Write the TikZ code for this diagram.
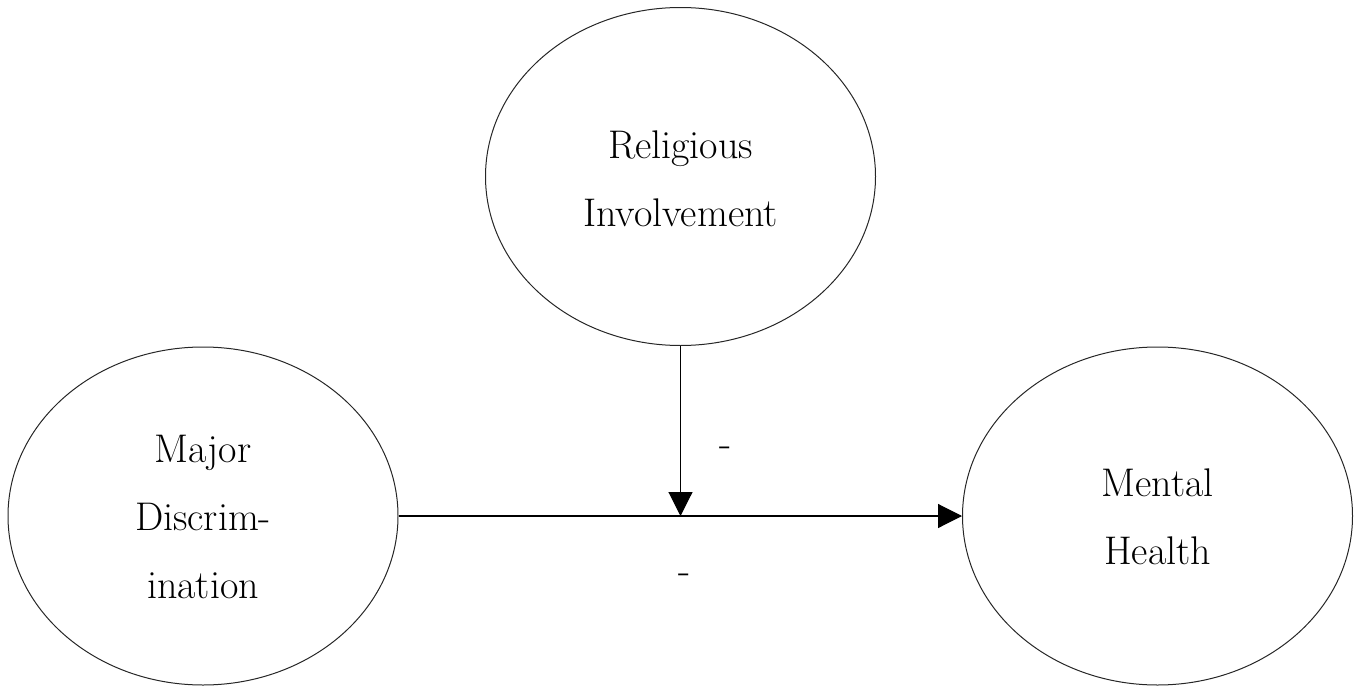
\documentclass[tikz,border=0pt]{standalone}
\usetikzlibrary{shapes.geometric,arrows.meta}
\tikzset{
  var/.style={ellipse,draw=black!85,line width=1pt,inner sep=0pt,
    minimum width=390pt,minimum height=338pt},
  vartext/.style={inner sep=0pt,align=center,
    font=\fontsize{40}{68}\selectfont},
  conn/.style={line width=1.1pt,-{Triangle[width=24pt,length=24pt]}},
  sign/.style={inner sep=0pt,font=\fontsize{40}{48}\selectfont}
}
\begin{document}
\begin{tikzpicture}[x=1pt,y=-1pt]
\useasboundingbox (0,0) rectangle (1360,688);
\node[var] (T) at (680.5,176.5) {};
\node[var] (L) at (203,516) {};
\node[var] (R) at (1157.5,516) {};
\node[vartext] (tT) at (680.5,178.5) {Religious\\Involvement};
\node[vartext] (tL) at (203,516.5) {Major\\Discrim-\\ination};
\node[vartext] (tR) at (1157.5,517) {Mental\\Health};
\coordinate (M) at (T.south |- L.east);
\draw[conn] (L.east) -- (R.west);
\draw[conn] (T.south) -- (M);
\node[sign] (s1) at (725.5,452) {-};
\node[sign] (s2) at (685,579) {-};
\end{tikzpicture}
\end{document}
